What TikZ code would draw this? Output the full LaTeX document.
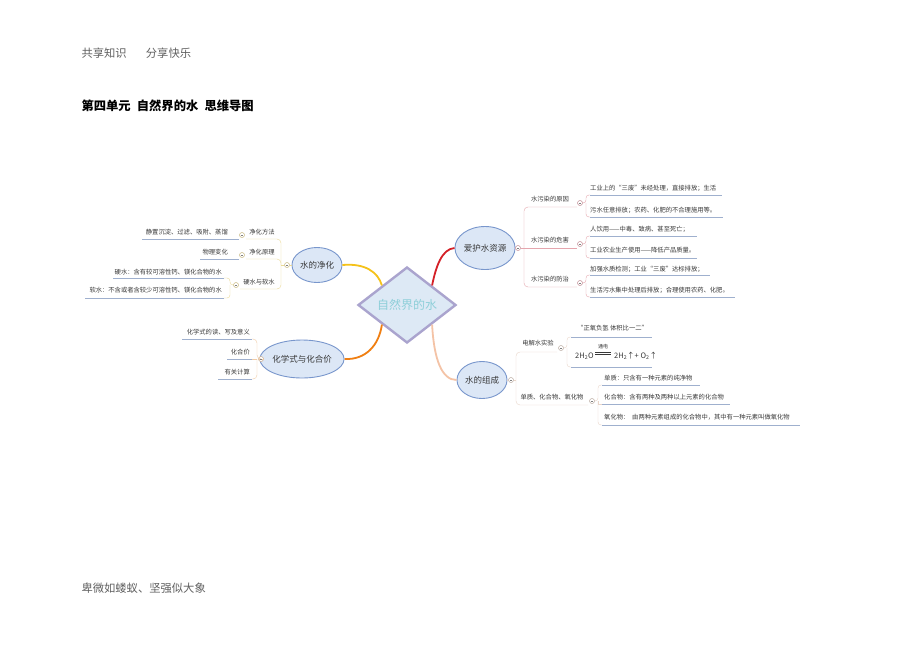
\documentclass[tikz,border=0pt]{standalone}
\usepackage{fontspec}
\setmainfont{Noto Sans CJK SC}
\usetikzlibrary{shapes.geometric}
\definecolor{txt}{HTML}{383838}
\definecolor{hdrgray}{HTML}{606060}
\definecolor{ellfill}{HTML}{DCE7F6}
\definecolor{elldraw}{HTML}{7896CC}
\definecolor{diafill}{HTML}{DDE9F5}
\definecolor{diadraw}{HTML}{AAA4CE}
\definecolor{diatxt}{HTML}{8ECFD9}
\definecolor{cgold}{HTML}{F5C21A}
\definecolor{corange}{HTML}{F07F12}
\definecolor{cred}{HTML}{D42027}
\definecolor{cpeach}{HTML}{F4C3A6}
\definecolor{lgold}{HTML}{EBDA96}
\definecolor{lorange}{HTML}{F1CCA6}
\definecolor{lred}{HTML}{E5A6AE}
\definecolor{lpeach}{HTML}{E9D6CA}
\definecolor{ulblue}{HTML}{9FB0CE}
\tikzset{
  hub/.style={diamond, draw=diadraw, line width=2.4pt, fill=diafill, inner sep=0pt,
    minimum width=98pt, minimum height=76pt, text=diatxt, font=\fontsize{12}{12}\selectfont},
  topic/.style={ellipse, draw=elldraw, line width=0.9pt, fill=ellfill, inner sep=0pt,
    text=txt, font=\fontsize{8.5}{8.5}\selectfont},
  subtopic/.style={inner sep=0pt, text=txt, font=\fontsize{6.3}{6.3}\selectfont},
  leaftxt/.style={subtopic},
  mk/.style={circle, draw, fill=white, inner sep=0pt, minimum size=5pt, line width=0.5pt},
  uline/.style={draw=ulblue, line width=0.6pt},
}
\begin{document}
\begin{tikzpicture}[x=1pt,y=-1pt]
\fill[white] (0,0) rectangle (920,651);
\useasboundingbox (0,0) rectangle (920,651);
\node[anchor=west, text=hdrgray, font=\fontsize{11.3}{11.3}\selectfont] (hdr) at (78,53) {共享知识\hspace{1.7em}分享快乐};
\node[anchor=west, font=\fontsize{12.3}{12.3}\selectfont\bfseries] (ttl) at (78,106) {第四单元\hspace{0.5em}自然界的水\hspace{0.5em}思维导图};
\node[anchor=west, text=hdrgray, font=\fontsize{11.3}{11.3}\selectfont] (ftr) at (78,588) {卑微如蝼蚁、坚强似大象};
% centre and main topics
\node[hub] (hub) at (407,305) {自然界的水};
\node[topic, minimum width=50pt, minimum height=35pt] (jh) at (317,265) {水的净化};
\node[topic, minimum width=55pt, minimum height=43pt] (ah) at (485,248) {爱护水资源};
\node[topic, minimum width=75pt, minimum height=38pt] (hx) at (302,359) {化学式与化合价};
\node[topic, minimum width=50pt, minimum height=37pt] (zc) at (482,380) {水的组成};
\draw[cgold, line width=1.8pt] (jh.east) .. controls (365,263) and (378,272) .. (hub.north west);
\draw[corange, line width=1.8pt] (hx.east) .. controls (366,360) and (379,345) .. (hub.south west);
\draw[cred, line width=1.8pt] (hub.north east) .. controls (436,266) and (442,249) .. (ah.west);
\draw[cpeach, line width=1.8pt] (hub.south east) .. controls (434,360) and (442,380) .. (zc.west);
% water purification
\node[subtopic] (ff) at (262,232) {净化方法};
\node[subtopic] (yl) at (262,252) {净化原理};
\node[subtopic] (rs) at (259,282) {硬水与软水};
\node[leaftxt, anchor=east] (ff1) at (228,232) {静置沉淀、过滤、吸附、蒸馏};
\node[leaftxt, anchor=east] (yl1) at (228,252) {物理变化};
\node[leaftxt, anchor=east] (rs1) at (222,272) {硬水：含有较可溶性钙、镁化合物的水};
\node[leaftxt, anchor=east] (rs2) at (222,290) {软水：不含或者含较少可溶性钙、镁化合物的水};
\node[mk, draw=lgold!85!black] (mjh) at (287,265) {};
\node[mk, draw=lgold!85!black] (mff) at (242,235) {};
\node[mk, draw=lgold!85!black] (myl) at (242,255) {};
\node[mk, draw=lgold!85!black] (mrs) at (236,285) {};
\draw[lgold] (jh.west) -- (mjh.east);
\draw[lgold] (mjh.west) -- (281,265);
\draw[lgold, rounded corners=4pt] (281,265) |- (246,239);
\draw[lgold, rounded corners=4pt] (281,265) |- (246,259);
\draw[lgold, rounded corners=4pt] (281,265) |- (240,289);
\draw[lgold, rounded corners=3pt] (mrs.west) -- (230,285) |- (224,278);
\draw[lgold, rounded corners=3pt] (230,285) |- (224,298);
\draw[uline] (239,239) -- (142,239);
\draw[uline] (239,259) -- (200,259);
\draw[uline] (224,278) -- (113,278);
\draw[uline] (224,298) -- (85,298);
% protecting water
\node[subtopic] (yy) at (550,199) {水污染的原因};
\node[subtopic] (wh) at (550,240) {水污染的危害};
\node[subtopic] (fz) at (550,279) {水污染的防治};
\node[leaftxt, anchor=west] (yy1) at (590,188) {工业上的“三废”未经处理，直接排放；生活};
\node[leaftxt, anchor=west] (yy2) at (590,210) {污水任意排放；农药、化肥的不合理施用等。};
\node[leaftxt, anchor=west] (wh1) at (590,229) {人饮用——中毒、致病、甚至死亡；};
\node[leaftxt, anchor=west] (wh2) at (590,250) {工业农业生产使用——降低产品质量。};
\node[leaftxt, anchor=west] (fz1) at (590,269) {加强水质检测；工业“三废”达标排放；};
\node[leaftxt, anchor=west] (fz2) at (590,290) {生活污水集中处理后排放；合理使用农药、化肥。};
\node[mk, draw=lred!85!black] (mah) at (518,248) {};
\node[mk, draw=lred!85!black] (myy) at (580,203) {};
\node[mk, draw=lred!85!black] (mwh) at (580,244) {};
\node[mk, draw=lred!85!black] (mfz) at (580,283) {};
\draw[lred] (ah.east) -- (mah.west);
\draw[lred] (mah.east) -- (577,248);
\draw[lred, rounded corners=4pt] (524,248) |- (577,207);
\draw[lred, rounded corners=4pt] (524,248) |- (577,287);
\foreach \m/\y in {myy/203, mwh/244, mfz/283}{
  \draw[lred, rounded corners=3pt] (\m.east) -- (586,\y) |- (590,\y-8);
  \draw[lred, rounded corners=3pt] (586,\y) |- (590,\y+14);
}
\draw[uline] (590,195) -- (722,195);
\draw[uline] (590,217) -- (723,217);
\draw[uline] (590,236) -- (697,236);
\draw[uline] (590,258) -- (697,258);
\draw[uline] (590,275) -- (710,275);
\draw[uline] (590,297) -- (735,297);
% formula and valence
\node[leaftxt, anchor=east] (hx1) at (250,332) {化学式的读、写及意义};
\node[leaftxt, anchor=east] (hx2) at (250,352) {化合价};
\node[leaftxt, anchor=east] (hx3) at (250,372) {有关计算};
\node[mk, draw=lorange!85!black] (mhx) at (261,359) {};
\draw[lorange] (hx.west) -- (mhx.east);
\draw[lorange, rounded corners=4pt] (mhx.west) -- (257,359) |- (252,339);
\draw[lorange] (257,359) -- (252,359);
\draw[lorange, rounded corners=4pt] (257,359) |- (252,379);
\draw[uline] (252,339) -- (182,339);
\draw[uline] (252,359) -- (227,359);
\draw[uline] (252,379) -- (218,379);
% composition of water
\node[subtopic] (dj) at (538,343) {电解水实验};
\node[subtopic] (dh) at (552,397) {单质、化合物、氧化物};
\node[leaftxt, anchor=west] (dj1) at (577,328) {“正氧负氢 体积比一二”};
\node[anchor=west, inner sep=0pt, text=txt, font=\fontsize{7.5}{7.5}\selectfont] (eqa) at (575,356) {2H\textsubscript{2}O};
\node[anchor=west, inner sep=0pt, text=txt, font=\fontsize{7.5}{7.5}\selectfont] (eqb) at (614,356) {2H\textsubscript{2}↑+ O\textsubscript{2}↑};
\node[inner sep=0pt, text=txt, font=\fontsize{5}{5}\selectfont] (eqc) at (603,347) {通电};
\draw[txt, line width=0.5pt] (595,352.5) -- (611,352.5) (595,354.5) -- (611,354.5);
\node[leaftxt, anchor=west] (dh1) at (604,378) {单质：只含有一种元素的纯净物};
\node[leaftxt, anchor=west] (dh2) at (604,397) {化合物：含有两种及两种以上元素的化合物};
\node[leaftxt, anchor=west] (dh3) at (604,417) {氧化物：\ \ 由两种元素组成的化合物中，其中有一种元素叫做氧化物};
\node[mk, draw=lpeach!80!black] (mzc) at (511,380) {};
\node[mk, draw=lpeach!80!black] (mdj) at (561,348) {};
\node[mk, draw=lpeach!80!black] (mdh) at (592,401) {};
\draw[lpeach] (zc.east) -- (mzc.west);
\draw[lpeach] (mzc.east) -- (516,380);
\draw[lpeach, rounded corners=4pt] (516,380) |- (557,352);
\draw[lpeach, rounded corners=4pt] (516,380) |- (588,405);
\draw[lpeach, rounded corners=3pt] (mdj.east) -- (567,348) |- (571,337);
\draw[lpeach, rounded corners=3pt] (567,348) |- (571,367);
\draw[lpeach, rounded corners=3pt] (mdh.east) -- (598,401) |- (602,385);
\draw[lpeach] (598,401) -- (598,404) -- (602,404);
\draw[lpeach, rounded corners=3pt] (598,401) |- (602,425);
\draw[uline] (571,337) -- (652,337);
\draw[uline] (571,367) -- (652,367);
\draw[uline] (602,385) -- (700,385);
\draw[uline] (602,404) -- (730,404);
\draw[uline] (602,425) -- (800,425);
% minus signs in the markers
\foreach \m in {mjh,mff,myl,mrs,mah,myy,mwh,mfz,mhx,mzc,mdj,mdh}
  \draw[gray, line width=0.4pt] ([xshift=-1.4pt]\m.center) -- ([xshift=1.4pt]\m.center);
\end{tikzpicture}
\end{document}
